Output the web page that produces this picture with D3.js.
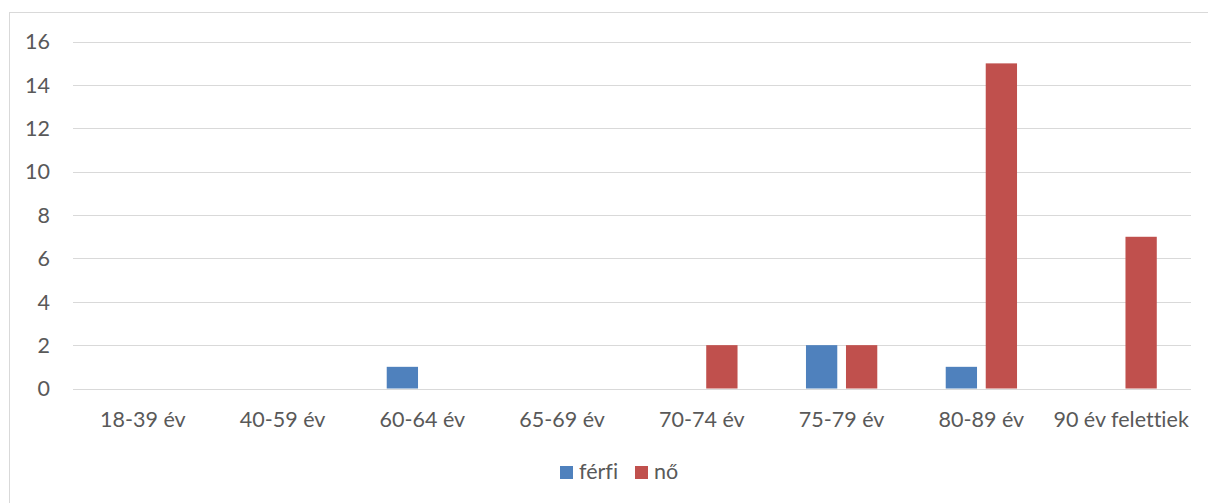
<!DOCTYPE html>
<html lang="hu">
<head>
<meta charset="utf-8">
<title>Korcsoportok</title>
<script src="https://d3js.org/d3.v7.js"></script>
<style>
  body { margin: 0; background: #fff; }
  text { font-family: Lato, "Open Sans", sans-serif; fill: #595959; font-variant-ligatures: none; }
</style>
</head>
<body>
<div id="my_dataviz"></div>
<script>

// categories and series
const categories = ["18-39 év", "40-59 év", "60-64 év", "65-69 év", "70-74 év", "75-79 év", "80-89 év", "90 év felettiek"];
const series = ["férfi", "nő"];
const ferfi = [0, 0, 1, 0, 0, 2, 1, 0];
const noi = [0, 0, 0, 0, 2, 2, 15, 7];
const yTicks = [0, 2, 4, 6, 8, 10, 12, 14, 16];
const colors = ["#4F81BD", "#C0504D"];

const W = 1208, H = 503;
const plot = {left: 73, right: 1191, top: 41.7, bottom: 388.5};

const svg = d3.select("#my_dataviz")
  .append("svg")
    .attr("width", W)
    .attr("height", H);

// chart border
svg.append("rect")
  .attr("x", 9.5).attr("y", 12.5)
  .attr("width", 1300).attr("height", 600)
  .attr("fill", "none")
  .attr("stroke", "#D9D9D9");

const x0 = d3.scaleBand()
  .domain(categories)
  .range([plot.left, plot.right]);

const x1 = d3.scaleBand()
  .domain(series)
  .range([0, x0.bandwidth()])
  .paddingInner(0.2175)
  .paddingOuter(0.8556);

const y = d3.scaleLinear()
  .domain([0, 16])
  .range([plot.bottom, plot.top]);

// gridlines
svg.append("g")
  .selectAll("line")
  .data(yTicks)
  .join("line")
    .attr("x1", plot.left).attr("x2", plot.right)
    .attr("y1", d => Math.round(y(d)) + 0.5)
    .attr("y2", d => Math.round(y(d)) + 0.5)
    .attr("stroke", "#D9D9D9")
    .attr("stroke-width", 1.2);

// y labels
svg.append("g")
  .selectAll("text")
  .data(yTicks)
  .join("text")
    .attr("x", 50)
    .attr("y", d => y(d))
    .attr("dy", "0.36em")
    .attr("text-anchor", "end")
    .style("font-size", "21.5px")
    .text(d => d);

// bars
const rows = categories.map((c, i) => ({cat: c, values: [ferfi[i], noi[i]]}));

const groups = svg.append("g")
  .selectAll("g")
  .data(rows)
  .join("g")
    .attr("transform", d => `translate(${x0(d.cat)},0)`);

groups.selectAll("rect")
  .data(d => d.values.map((v, j) => ({s: series[j], v: v, j: j})).filter(e => e.v > 0))
  .join("rect")
    .attr("x", d => x1(d.s))
    .attr("y", d => y(d.v))
    .attr("width", x1.bandwidth())
    .attr("height", d => y(0) - y(d.v))
    .attr("fill", d => colors[d.j]);

// x labels
svg.append("g")
  .selectAll("text")
  .data(categories)
  .join("text")
    .attr("x", d => x0(d) + x0.bandwidth() / 2)
    .attr("y", 427)
    .attr("text-anchor", "middle")
    .style("font-size", "21.5px")
    .text(d => d);

// legend
const legendX = [560, 635];
const legend = svg.append("g")
  .selectAll("g")
  .data(series)
  .join("g")
    .attr("transform", (d, i) => `translate(${legendX[i]},466)`);

legend.append("rect")
  .attr("width", 13).attr("height", 13)
  .attr("fill", (d, i) => colors[i]);

legend.append("text")
  .attr("x", 19)
  .attr("y", 13)
  .style("font-size", "21.5px")
  .text(d => d);

</script>
</body>
</html>
